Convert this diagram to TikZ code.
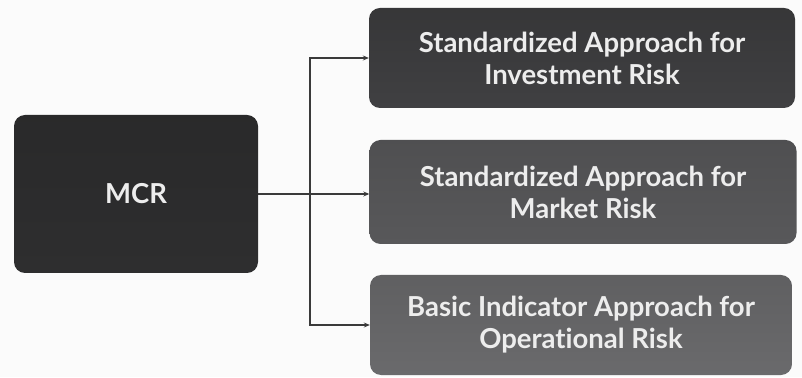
\documentclass[tikz,border=0pt]{standalone}
\usepackage{fontspec}
\setmainfont{Lato}[Ligatures=NoCommon]
\usetikzlibrary{arrows.meta}
\definecolor{boxA}{HTML}{2E2E2F}
\definecolor{boxB}{HTML}{404042}
\definecolor{boxC}{HTML}{58585A}
\definecolor{boxD}{HTML}{6A6A6C}
\definecolor{txt}{HTML}{EDEDED}
\definecolor{wire}{HTML}{3A3A3A}
\tikzset{
  card/.style={rounded corners=11pt, inner sep=0pt, align=center,
    text=txt, font=\fontsize{27.5}{32}\selectfont\bfseries},
  wirestyle/.style={draw=wire, line width=1.3pt},
  tip/.style={-{Stealth[length=6pt,width=5pt]}}
}
\begin{document}
\begin{tikzpicture}[x=1pt,y=1pt]
\useasboundingbox (0,0) rectangle (802,377);
\fill[white!97!gray] (0,0) rectangle (802,377);
\node[card, minimum width=244pt, minimum height=158pt, top color=boxA!90!black, bottom color=boxA] (mcr) at (136,183) {MCR};
\node[card, minimum width=426pt, minimum height=100pt, top color=boxB!85!black, bottom color=boxB] (b1) at (582,319) {Standardized Approach for\\Investment Risk};
\node[card, minimum width=427pt, minimum height=104pt, top color=boxC!90!black, bottom color=boxC] (b2) at (583,185) {Standardized Approach for\\Market Risk};
\node[card, minimum width=422pt, minimum height=100pt, top color=boxD!90!black, bottom color=boxD] (b3) at (581,52) {Basic Indicator Approach for\\Operational Risk};
\coordinate (j) at (310,183);
\draw[wirestyle, tip] (mcr.east) -- (j) -- (b2.west |- j);
\draw[wirestyle, tip] (j) |- (b1.west);
\draw[wirestyle, tip] (j) |- (b3.west);
\end{tikzpicture}
\end{document}
